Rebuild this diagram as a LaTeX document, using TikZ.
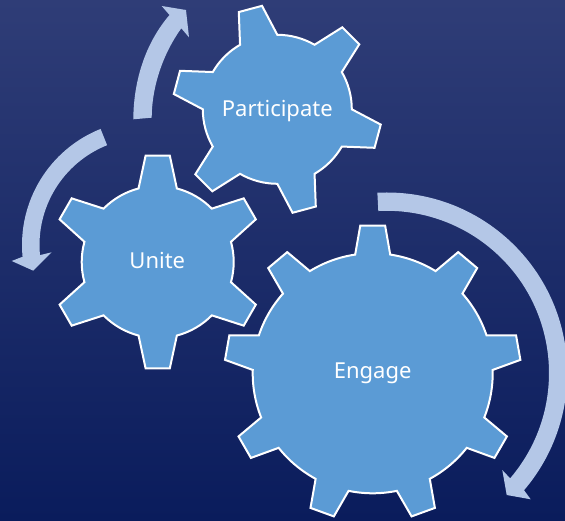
\documentclass[tikz,border=0pt]{standalone}
\usepackage{fontspec}
\setmainfont{Noto Sans}
\usetikzlibrary{calc}
\definecolor{bgtop}{HTML}{2F3D77}
\definecolor{bgbottom}{HTML}{0A1C5C}
\definecolor{gearblue}{HTML}{5B9BD5}
\definecolor{arrowblue}{HTML}{B4C7E7}

\begin{document}
\begin{tikzpicture}[x=1pt, y=1pt]
  \tikzstyle{gear} = [fill=gearblue, draw=white, line width=2pt, line join=miter]
  \tikzstyle{gearlabel} = [text=white, font=\fontsize{22}{26}\selectfont, inner sep=0pt, anchor=base]
  \tikzstyle{turn} = [fill=arrowblue, draw=none]

  % Background
  \shade[top color=bgtop, bottom color=bgbottom] (0,0) rectangle (565,520);
  \useasboundingbox (0,0) rectangle (565,520);

  % Define gears: centre, number of teeth, first tooth, radii, half widths
  \foreach \cx/\cy/\n/\rot/\rb/\rt/\tw/\bw in {
    372.7/146.7/9/90/120/148.3/4.8/8.4,
    157.7/258/6/90/76/107/6.5/14.6,
    277.3/410.7/6/45/74.5/104.6/6.6/15}
  {
    \pgfmathsetmacro{\stp}{360/\n}
    \begin{scope}[shift={(\cx,\cy)}]
      \draw[gear] (\rot-\bw:\rb pt)
        \foreach \k [evaluate=\k as \a using {\rot+\k*\stp}] in {1,...,\n} {
          -- ({\a-\stp-\tw}:\rt pt) -- ({\a-\stp+\tw}:\rt pt) -- ({\a-\stp+\bw}:\rb pt)
          arc[start angle={\a-\stp+\bw}, end angle={\a-\bw}, radius=\rb pt]
        } -- cycle;
    \end{scope}
  }

  \node[gearlabel] (engage) at (372.7,141.7) {Engage};
  \node[gearlabel] (unite) at (157.3,251.7) {Unite};
  \node[gearlabel] (participate) at (277.3,403.3) {Participate};

  % Define arrows
  \coordinate (cRight) at (386.8,147);
  \coordinate (cLeft) at (147,275);

  \fill[turn] (cRight) ++(93:180.5pt) arc[start angle=93, end angle=-40.5, radius=180.5pt]
    -- (530.7,20.7) -- (506.7,25) -- (502.3,50)
    -- ($(cRight)+(-40.5:162.2pt)$) arc[start angle=-40.5, end angle=93, radius=162.2pt] -- cycle;
  \fill[turn] (cLeft) ++(111.8:125pt) arc[start angle=111.8, end angle=185.4, radius=125pt]
    -- (11.7,259) -- (33.3,249.3) -- (51.7,267.7)
    -- ($(cLeft)+(185.4:107.5pt)$) arc[start angle=185.4, end angle=111.8, radius=107.5pt] -- cycle;
  \fill[turn] (133.3,400.7) .. controls (133.5,435) and (143,474) .. (169.5,505)
    -- (161.7,514) -- (186,510) -- (189,482.7) -- (181.3,491.7)
    .. controls (160,462) and (151.7,428) .. (151.7,402.3) -- cycle;
\end{tikzpicture}
\end{document}
